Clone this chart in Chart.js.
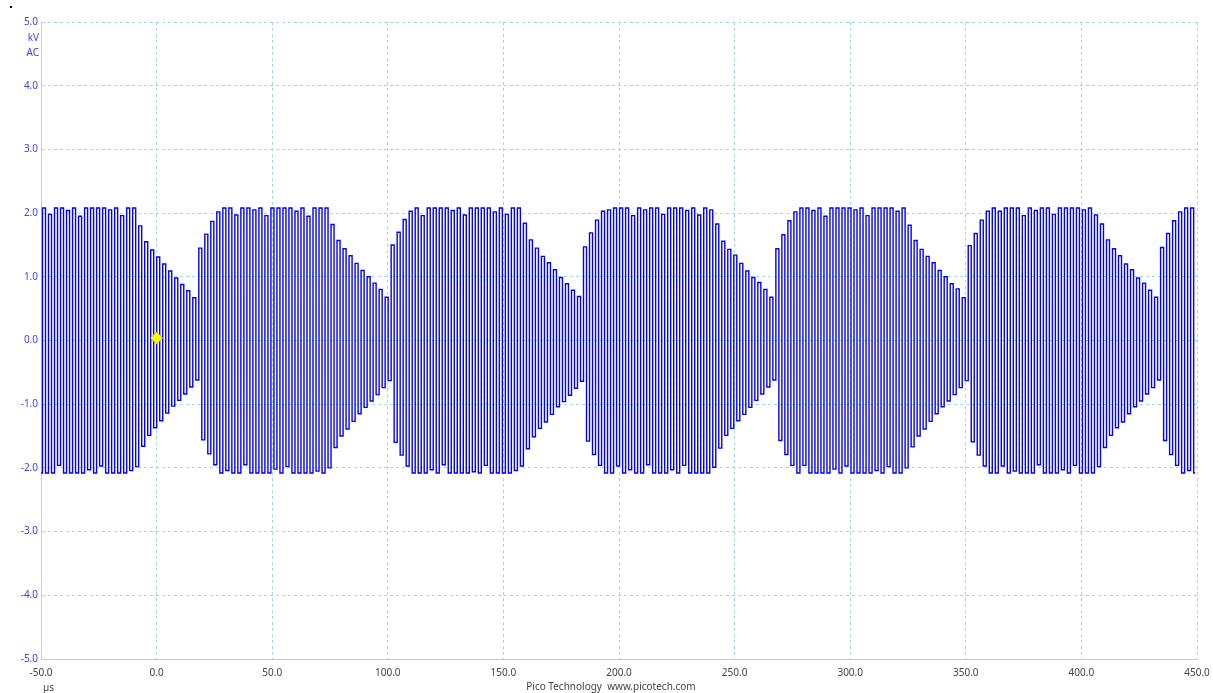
<!DOCTYPE html>
<html>
<head>
<meta charset="utf-8">
<script src="https://cdn.jsdelivr.net/npm/chart.js@4/dist/chart.umd.min.js"></script>
<style>
  html, body { margin: 0; padding: 0; background: #fff; }
  #wrap { width: 1213px; height: 693px; position: relative; }
</style>
</head>
<body>
<div id="wrap"><canvas id="scope"></canvas></div>
<script>
// time base of the capture: one peak every DT µs, starting at T0
const T0 = -50;
const DT = 1.3;

const X_TICKS = [-50, 0, 50, 100, 150, 200, 250, 300, 350, 400, 450];
const Y_TICKS = [-5, -4, -3, -2, -1, 0, 1, 2, 3, 4, 5];

// half-cycle peak voltages (kV), one array per burst
const burst0 = [
  -2.08, 2.08, -2.08, 1.98, -2.08, 2.08, -1.96, 2.08, -2.08, 2.04,
  -2.08, 2.08, -2.08, 1.95, -2.08, 2.08, -2.03, 2.08, -2.08, 2.08,
  -1.97, 2.08, -2.08, 2.05, -2.08, 2.08, -2.08, 1.96, -2.08, 2.08,
  -2.04, 2.08,
  -1.98, 1.80, -1.66, 1.55, -1.49, 1.42, -1.37, 1.31, -1.26, 1.20,
  -1.14, 1.09, -1.03, 0.98, -0.94, 0.88, -0.84, 0.78, -0.73, 0.67, -0.62
];
const burst1 = [
  1.45, -1.56, 1.67, -1.78, 1.87, -1.95, 2.02,
  -2.08, 2.08, -2.04, 2.08, -2.08, 1.97, -2.08, 2.08, -1.95, 2.08,
  -2.08, 2.05, -2.08, 2.08, -2.08, 1.96, -2.08, 2.08, -2.02, 2.08,
  -2.08, 2.08, -1.98, 2.08, -2.08, 2.03, -2.08, 2.08, -2.08, 1.95,
  -2.08, 2.08, -2.05, 2.08, -2.08, 2.08,
  -2.00, 1.82, -1.68, 1.57, -1.50, 1.44, -1.39, 1.33, -1.27, 1.21,
  -1.15, 1.10, -1.05, 1.00, -0.95, 0.90, -0.85, 0.80, -0.74, 0.68, -0.63
];
const burst2 = [
  1.50, -1.60, 1.70, -1.80, 1.90, -1.97, 2.03,
  -2.08, 2.08, -2.08, 1.96, -2.08, 2.08, -2.03, 2.08, -2.08, 2.08,
  -1.95, 2.08, -2.08, 2.04, -2.08, 2.08, -2.08, 1.97, -2.08, 2.08,
  -2.06, 2.08, -2.08, 2.08, -1.96, 2.08, -2.08, 2.02, -2.08, 2.08,
  -2.08, 1.98, -2.08, 2.08, -2.04, 2.08,
  -1.97, 1.84, -1.70, 1.58, -1.51, 1.45, -1.38, 1.32, -1.28, 1.22,
  -1.16, 1.11, -1.04, 0.99, -0.96, 0.89, -0.86, 0.79, -0.75, 0.69, -0.64
];
const burst3 = [
  1.47, -1.58, 1.69, -1.79, 1.89, -1.96, 2.03,
  -2.08, 2.05, -2.08, 2.08, -1.97, 2.08, -2.08, 2.08, -2.03, 1.96,
  -2.08, 2.08, -2.08, 2.05, -1.95, 2.08, -2.08, 2.08, -2.08, 1.98,
  -2.08, 2.08, -2.03, 2.08, -2.08, 2.08, -1.96, 2.04, -2.08, 2.08,
  -2.08, 1.97, -2.08, 2.08, -2.08, 2.05,
  -1.99, 1.83, -1.69, 1.56, -1.49, 1.43, -1.38, 1.34, -1.26, 1.21,
  -1.16, 1.09, -1.05, 0.99, -0.94, 0.91, -0.84, 0.80, -0.73, 0.68, -0.62
];
const burst4 = [
  1.44, -1.57, 1.66, -1.79, 1.88, -1.96, 2.02,
  -2.08, 2.08, -1.96, 2.08, -2.08, 2.04, -2.08, 2.08, -2.08, 1.95,
  -2.08, 2.08, -2.02, 2.08, -2.08, 2.08, -1.97, 2.08, -2.08, 2.05,
  -2.08, 2.08, -2.08, 1.96, -2.08, 2.08, -2.04, 2.08, -2.08, 2.08,
  -1.98, 2.08, -2.08, 2.03, -2.08, 2.08,
  -2.00, 1.81, -1.67, 1.57, -1.50, 1.43, -1.39, 1.32, -1.27, 1.22,
  -1.15, 1.10, -1.04, 1.00, -0.95, 0.89, -0.85, 0.81, -0.74, 0.67, -0.63
];
const burst5 = [
  1.49, -1.59, 1.68, -1.80, 1.89, -1.97, 2.03,
  -2.08, 2.08, -2.08, 2.03, -1.97, 2.08, -2.08, 2.08, -2.05, 2.08,
  -2.08, 1.96, -2.08, 2.08, -2.08, 2.04, -1.95, 2.08, -2.08, 2.08,
  -2.08, 1.98, -2.08, 2.08, -2.03, 2.08, -2.08, 2.08, -1.96, 2.08,
  -2.08, 2.05, -2.08, 2.08, -2.08, 1.97,
  -1.98, 1.83, -1.68, 1.58, -1.49, 1.44, -1.37, 1.33, -1.28, 1.20,
  -1.15, 1.11, -1.04, 0.98, -0.95, 0.90, -0.84, 0.79, -0.74, 0.68, -0.62
];
const burst6 = [
  1.46, -1.57, 1.68, -1.79, 1.88, -1.96, 2.02,
  -2.08, 2.08, -2.04, 2.08, -2.08
];

const TRIGGER = { x: 0, y: 0.04 };

const GRID = '#a9d6e6';
const BLUE_TXT = '#4343e8';

const volts = [...burst0, ...burst1, ...burst2, ...burst3, ...burst4, ...burst5, ...burst6];
const trace = volts.map((v, i) => ({ x: T0 + i * DT, y: v }));

// extra captions PicoScope puts round the plot
const captions = {
    id: 'captions',
    afterDraw(chart) {
        const ctx = chart.ctx;
        const a = chart.chartArea;
        ctx.save();
        ctx.fillStyle = '#000';
        ctx.fillRect(10, 6, 2, 2);
        ctx.font = '10px "Noto Sans"';
        ctx.fillStyle = BLUE_TXT;
        ctx.textAlign = 'right';
        ctx.textBaseline = 'middle';
        ctx.fillText('kV', a.left - 2, 38);
        ctx.fillText('AC', a.left - 2, 53);
        ctx.fillStyle = '#444';
        ctx.textAlign = 'left';
        ctx.fillText('µs', 43, 688);
        ctx.textAlign = 'center';
        ctx.fillText('Pico Technology  www.picotech.com', 611, 687);
        ctx.restore();
    }
};

new Chart(document.getElementById('scope'), {
    type: 'line',
    data: {
        datasets: [
            { data: trace, borderColor: '#0000ff', borderWidth: 1.4, pointRadius: 0, stepped: 'middle', order: 2 },
            { type: 'scatter', data: [TRIGGER], pointStyle: 'rectRot', pointRadius: 6,
              backgroundColor: '#ffff00', borderColor: '#c9c400', borderWidth: 1, order: 1 }
        ]
    },
    options: {
        responsive: true, maintainAspectRatio: false, animation: false,
        parsing: false, normalized: true,
        layout: { padding: { top: 22, right: 16, left: 0, bottom: 0 } },
        plugins: { legend: { display: false }, tooltip: { enabled: false } },
        scales: {
            x: {
                type: 'linear', min: -50, max: 450,
                afterBuildTicks: s => { s.ticks = X_TICKS.map(v => ({ value: v })); },
                afterFit: s => { s.height = 34; s.paddingLeft = 0; s.paddingRight = 0; },
                grid: { color: GRID, drawTicks: false },
                border: { display: true, color: GRID, dash: [3, 3] },
                ticks: { padding: 8, color: '#444', font: { family: 'Noto Sans', size: 10 },
                         maxRotation: 0, autoSkip: false, callback: v => v.toFixed(1) }
            },
            y: {
                type: 'linear', min: -5, max: 5,
                afterBuildTicks: s => { s.ticks = Y_TICKS.map(v => ({ value: v })); },
                afterFit: s => { s.width = 41; s.paddingTop = 0; s.paddingBottom = 0; },
                grid: { color: GRID, drawTicks: false },
                border: { display: true, color: GRID, dash: [3, 3] },
                ticks: { padding: 3, color: BLUE_TXT, font: { family: 'Noto Sans', size: 10 },
                         autoSkip: false, callback: v => v.toFixed(1) }
            }
        }
    },
    plugins: [captions]
});
</script>
</body>
</html>
